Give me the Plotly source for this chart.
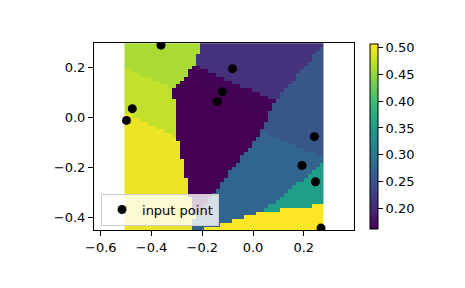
import numpy as np
import plotly.graph_objects as go

# input points
px = [-0.363, -0.081, -0.121, -0.142, -0.476, -0.499, 0.242, 0.193, 0.246, 0.268]
py = [0.290, 0.196, 0.104, 0.065, 0.036, -0.011, -0.076, -0.191, -0.256, -0.4415]
pz = [0.462, 0.211, 0.163, 0.161, 0.476, 0.498, 0.254, 0.272, 0.355, 0.507]

x_ticks = [-0.6, -0.4, -0.2, 0.0, 0.2]
y_ticks = [-0.4, -0.2, 0.0, 0.2]
cb_ticks = [0.20, 0.25, 0.30, 0.35, 0.40, 0.45, 0.50]

xa = np.array(px); ya = np.array(py); za = np.array(pz)
gx = np.linspace(xa.min(), xa.max(), 50)
gy = np.linspace(ya.min(), ya.max(), 50)
GX, GY = np.meshgrid(gx, gy)
d = (GX[..., None] - xa) ** 2 + (GY[..., None] - ya) ** 2
Z = za[np.argmin(d, axis=-1)]

font = dict(family="DejaVu Sans", size=13, color="black")

fig = go.Figure()
fig.add_trace(go.Heatmap(
    x=gx, y=gy, z=Z, colorscale="Viridis", zsmooth=False,
    zmin=za.min(), zmax=za.max(), showscale=True,
    colorbar=dict(
        x=1.062, xanchor="left", xpad=0, ypad=0,
        y=0.5, yanchor="middle", len=0.99, lenmode="fraction",
        thickness=8, outlinewidth=1, outlinecolor="black",
        tickvals=cb_ticks, tickformat=".2f", ticks="outside", ticklen=5,
        tickcolor="black", tickfont=font,
    ),
    hoverinfo="skip",
))
fig.add_trace(go.Scatter(
    x=px, y=py, mode="markers", name="input point",
    marker=dict(color="black", size=9),
    cliponaxis=True,
))

axis_common = dict(showgrid=False, zeroline=False, showline=True, mirror=True,
                   linecolor="black", linewidth=1, ticks="outside", ticklen=5,
                   tickcolor="black", tickfont=font)
fig.update_layout(
    width=465, height=288,
    margin=dict(l=94, r=111, t=43, b=58),
    plot_bgcolor="white", paper_bgcolor="white",
    showlegend=True,
    legend=dict(x=0.027, y=0.024, xanchor="left", yanchor="bottom",
                bgcolor="rgba(255,255,255,0.8)", bordercolor="#cccccc",
                borderwidth=1, font=dict(family="DejaVu Sans", size=13, color="black")),
    xaxis=dict(range=[-0.627, 0.398], tickvals=x_ticks,
               ticktext=["\u22120.6", "\u22120.4", "\u22120.2", "0.0", "0.2"], **axis_common),
    yaxis=dict(range=[-0.449, 0.2985], tickvals=y_ticks,
               ticktext=["\u22120.4", "\u22120.2", "0.0", "0.2"], **axis_common),
)
fig.write_html("out.html")
